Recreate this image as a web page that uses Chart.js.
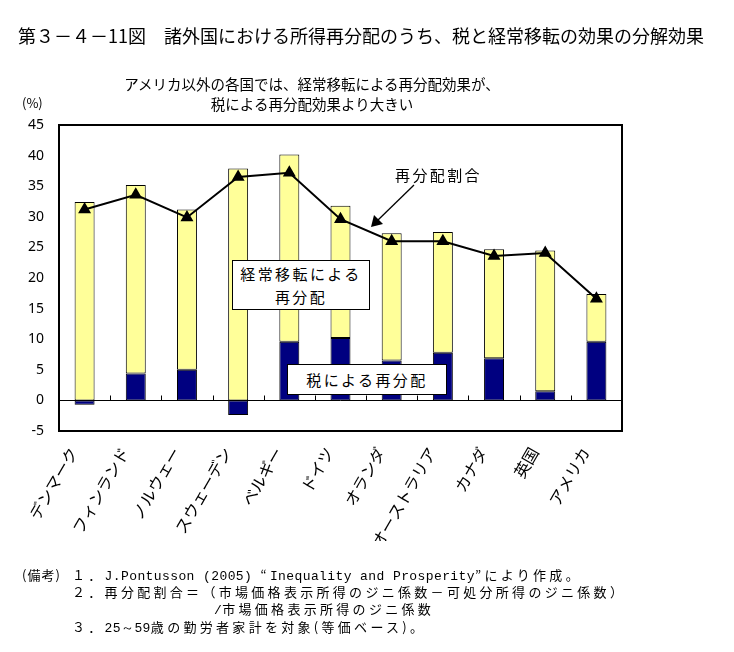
<!DOCTYPE html>
<html>
<head>
<meta charset="utf-8">
<script src="https://cdn.jsdelivr.net/npm/chart.js@4/dist/chart.umd.min.js"></script>
<style>
body { margin: 0; background: #fff; }
#wrap { position: relative; width: 734px; height: 652px; font-family: "Noto Sans CJK JP", sans-serif; color: #000; overflow: hidden; }
#wrap canvas { position: absolute; left: 0; top: 0; }
.t { position: absolute; white-space: nowrap; line-height: 1; }
.box { position: absolute; background: #fff; border: 1px solid #000; box-sizing: border-box; text-align: center; white-space: nowrap; }
.note { font-size: 13px; letter-spacing: 3.3px; }
.note .m { font-family: "Liberation Mono", monospace; letter-spacing: 0.4px; }
svg { position: absolute; left: 0; top: 0; }
</style>
</head>
<body>
<div id="wrap">
  <canvas id="myChart" width="734" height="652"></canvas>

  <div class="t" style="left:18px;top:26px;font-size:18px;">第３－４－11図　諸外国における所得再分配のうち、税と経常移転の効果の分解効果</div>
  <div class="t" style="left:112px;top:74px;width:400px;text-align:center;font-size:14.5px;line-height:20px;">アメリカ以外の各国では、経常移転による再分配効果が、<br>税による再分配効果より大きい</div>
  <div class="t" style="left:22px;top:96px;font-size:13px;">(%)</div>

  <div class="box" style="left:232px;top:260px;width:138px;height:50px;font-size:15px;letter-spacing:2.4px;line-height:23px;padding-top:1px;">経常移転による<br>再分配</div>
  <div class="box" style="left:287px;top:364px;width:160px;height:31px;font-size:15px;letter-spacing:2.4px;line-height:29px;">税による再分配</div>
  <div class="t" style="left:395px;top:167px;font-size:15px;letter-spacing:2.4px;">再分配割合</div>
  <svg width="734" height="652">
    <line x1="414" y1="185" x2="377" y2="221" stroke="#000" stroke-width="1.3"/>
    <polygon points="371,227 374,215 383,224" fill="#000"/>
  </svg>

  <div class="t note" style="left:22px;top:568px;letter-spacing:1px;">(備考)</div>
  <div class="t note" style="left:72px;top:568px;">１．<span class="m">J.Pontusson (2005) </span>“<span class="m">Inequality and Prosperity</span>”により作成。</div>
  <div class="t note" style="left:72px;top:585px;">２．再分配割合＝（市場価格表示所得のジニ係数－可処分所得のジニ係数）</div>
  <div class="t note" style="left:214px;top:602px;"><span class="m">/</span>市場価格表示所得のジニ係数</div>
  <div class="t note" style="left:72px;top:620px;">３．<span class="m">25～59</span>歳の勤労者家計を対象(等価ベース)。</div>
</div>

<script>
const countries = ['デンマーク', 'フィンランド', 'ノルウェー', 'スウェーデン', 'ベルギー', 'ドイツ', 'オランダ', 'オーストラリア', 'カナダ', '英国', 'アメリカ'];
// 税による再分配
const taxEffect = [-0.7, 4.4, 5.0, -2.4, 9.6, 10.2, 6.5, 7.8, 6.9, 1.5, 9.6];
// 経常移転による再分配
const transferEffect = [32.4, 30.8, 26.2, 37.9, 30.6, 21.6, 20.8, 19.7, 17.8, 23.0, 7.8];
// 再分配割合
const redistRatio = [31.2, 33.6, 29.9, 36.5, 37.2, 29.6, 26.0, 26.0, 23.6, 24.1, 16.6];
const yTicks = [45, 40, 35, 30, 25, 20, 15, 10, 5, 0, -5];

Chart.defaults.font.family = '"Noto Sans CJK JP", sans-serif';
Chart.defaults.color = '#000';

// 外枠とゼロ線上の目盛り
const frame = {
	id: 'frame',
	afterDatasetsDraw(chart) {
		const { ctx, chartArea: a, scales: { x, y } } = chart;
		ctx.save();
		ctx.strokeStyle = '#000';
		ctx.lineWidth = 1;
		const y0 = Math.round(y.getPixelForValue(0)) + 0.5;
		ctx.beginPath();
		ctx.moveTo(a.left, y0);
		ctx.lineTo(a.right, y0);
		for (let i = 1; i < countries.length; i++) {
			const px = Math.round((x.getPixelForValue(i - 1) + x.getPixelForValue(i)) / 2) + 0.5;
			ctx.moveTo(px, y0);
			ctx.lineTo(px, y0 - 5);
		}
		ctx.stroke();
		ctx.lineWidth = 2;
		ctx.strokeRect(a.left, a.top, a.right - a.left, a.bottom - a.top);
		ctx.restore();
	}
};

const ctx = document.getElementById('myChart');

new Chart(ctx, {
	type: 'bar',
	data: {
		labels: countries,
		datasets: [{
			type: 'line',
			label: '再分配割合',
			data: redistRatio,
			borderColor: '#000',
			borderWidth: 2,
			pointStyle: 'triangle',
			pointRadius: 5.5,
			pointBackgroundColor: '#000',
			pointBorderColor: '#000',
			tension: 0,
			order: 0
		}, {
			label: '税による再分配',
			data: taxEffect,
			backgroundColor: '#000080',
			borderColor: '#000',
			borderWidth: 1,
			borderSkipped: false,
			categoryPercentage: 1,
			barPercentage: 0.39,
			order: 1
		}, {
			label: '経常移転による再分配',
			data: transferEffect,
			backgroundColor: '#ffff99',
			borderColor: '#000',
			borderWidth: 1,
			borderSkipped: false,
			categoryPercentage: 1,
			barPercentage: 0.39,
			order: 2
		}]
	},
	options: {
		responsive: false,
		animation: false,
		devicePixelRatio: 1,
		layout: {
			padding: { top: 125, right: 112, bottom: 111, left: 0 }
		},
		plugins: {
			legend: { display: false },
			tooltip: { enabled: false }
		},
		scales: {
			x: {
				stacked: true,
				grid: { display: false, drawTicks: false },
				border: { display: false },
				ticks: {
					autoSkip: false,
					minRotation: 60,
					maxRotation: 60,
					padding: 13,
					labelOffset: -11,
					font: { size: 16 }
				},
				afterFit: (scale) => { scale.height = 110; }
			},
			y: {
				stacked: true,
				min: -5,
				max: 45,
				afterBuildTicks: (scale) => { scale.ticks = yTicks.map(v => ({ value: v })); },
				grid: { display: false, drawTicks: false },
				border: { display: false },
				ticks: {
					padding: 15,
					font: { family: '"Noto Sans", sans-serif', size: 14 }
				},
				afterFit: (scale) => { scale.width = 59; }
			}
		}
	},
	plugins: [frame]
});
</script>
</body>
</html>
